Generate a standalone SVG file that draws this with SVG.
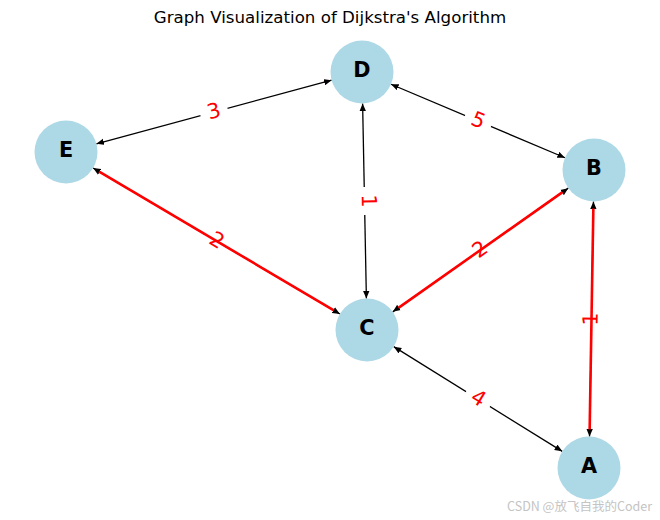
<svg xmlns="http://www.w3.org/2000/svg" width="660" height="520" viewBox="0 0 660 520">
<defs>
<marker id="ah" markerUnits="userSpaceOnUse" markerWidth="8" markerHeight="7" viewBox="0 0 8 7" refX="7.6" refY="3.5" orient="auto-start-reverse">
<path d="M0,0.3 L7.6,3.5 L0,6.7 z" fill="#000"/>
</marker>
<style>
.edge{stroke:#000;stroke-width:1.3;fill:none;marker-start:url(#ah);marker-end:url(#ah)}
.red{stroke:#ff0000;stroke-width:2.6;fill:none}
.lbox{fill:#fff;stroke:#fff}
.ltxt{font-family:"DejaVu Sans",sans-serif;font-size:20.8px;fill:#ff0000;text-anchor:middle}
.node circle{fill:#add8e6}
.node text{font-family:"DejaVu Sans",sans-serif;font-size:20.8px;font-weight:bold;fill:#000;text-anchor:middle}
.title{font-family:"DejaVu Sans",sans-serif;font-size:16.67px;fill:#000;text-anchor:middle}
</style>
</defs>
<rect width="660" height="520" fill="#fff"/>
<text class="title" x="330" y="22.5">Graph Visualization of Dijkstra's Algorithm</text>
<g id="connectors">
<g id="edges">
<line class="edge" x1="96.41" y1="143.78" x2="331.59" y2="80.22"/>
<line class="edge" x1="391.02" y1="84.26" x2="564.98" y2="157.74"/>
<line class="edge" x1="362.61" y1="103.49" x2="366.39" y2="298.51"/>
<line class="edge" x1="93.11" y1="168.03" x2="339.89" y2="313.97"/>
<line class="edge" x1="392.75" y1="311.85" x2="568.25" y2="188.15"/>
<line class="edge" x1="393.75" y1="346.63" x2="562.25" y2="451.37"/>
<line class="edge" x1="589.53" y1="436.5" x2="593.47" y2="201.5"/>
</g>
<g id="edge-labels">
<g transform="translate(214,112) rotate(-15.1)"><rect class="lbox" x="-13.5" y="-16" width="27" height="32" rx="6"/><text class="ltxt" y="6">3</text></g>
<g transform="translate(478,121) rotate(22.9)"><rect class="lbox" x="-13.5" y="-16" width="27" height="32" rx="6"/><text class="ltxt" y="6">5</text></g>
<g transform="translate(364.5,201) rotate(88.9)"><rect class="lbox" x="-13.5" y="-16" width="27" height="32" rx="6"/><text class="ltxt" y="2.5">1</text></g>
<g transform="translate(216.5,241) rotate(30.6)"><rect class="lbox" x="-13.5" y="-16" width="27" height="32" rx="6"/><text class="ltxt" y="6">2</text></g>
<g transform="translate(480.5,250) rotate(-35.2)"><rect class="lbox" x="-13.5" y="-16" width="27" height="32" rx="6"/><text class="ltxt" y="6">2</text></g>
<g transform="translate(478,399) rotate(31.9)"><rect class="lbox" x="-13.5" y="-16" width="27" height="32" rx="6"/><text class="ltxt" y="6">4</text></g>
<g transform="translate(591.5,319) rotate(-89)"><rect class="lbox" x="-13.5" y="-16" width="27" height="32" rx="6"/><text class="ltxt" y="6">1</text></g>
</g>
<g id="shortest-path">
<line class="red" x1="99.14" y1="171.6" x2="333.86" y2="310.4"/>
<line class="red" x1="398.47" y1="307.82" x2="562.53" y2="192.18"/>
<line class="red" x1="589.65" y1="429.51" x2="593.35" y2="208.49"/>
</g>
</g>
<g id="node-E" class="node"><circle cx="66" cy="152" r="31.5"/><text x="66" y="156.5">E</text></g>
<g id="node-D" class="node"><circle cx="362" cy="72" r="31.5"/><text x="362" y="76.5">D</text></g>
<g id="node-B" class="node"><circle cx="594" cy="170" r="31.5"/><text x="594" y="174.5">B</text></g>
<g id="node-C" class="node"><circle cx="367" cy="330" r="31.5"/><text x="367" y="334.5">C</text></g>
<g id="node-A" class="node"><circle cx="589" cy="468" r="31.5"/><text x="589" y="472.5">A</text></g>
<text x="652" y="511" font-family="'Noto Sans CJK SC','Noto Sans',sans-serif" font-size="12.5" fill="#c4c4c4" text-anchor="end">CSDN @放飞自我的Coder</text>
</svg>
